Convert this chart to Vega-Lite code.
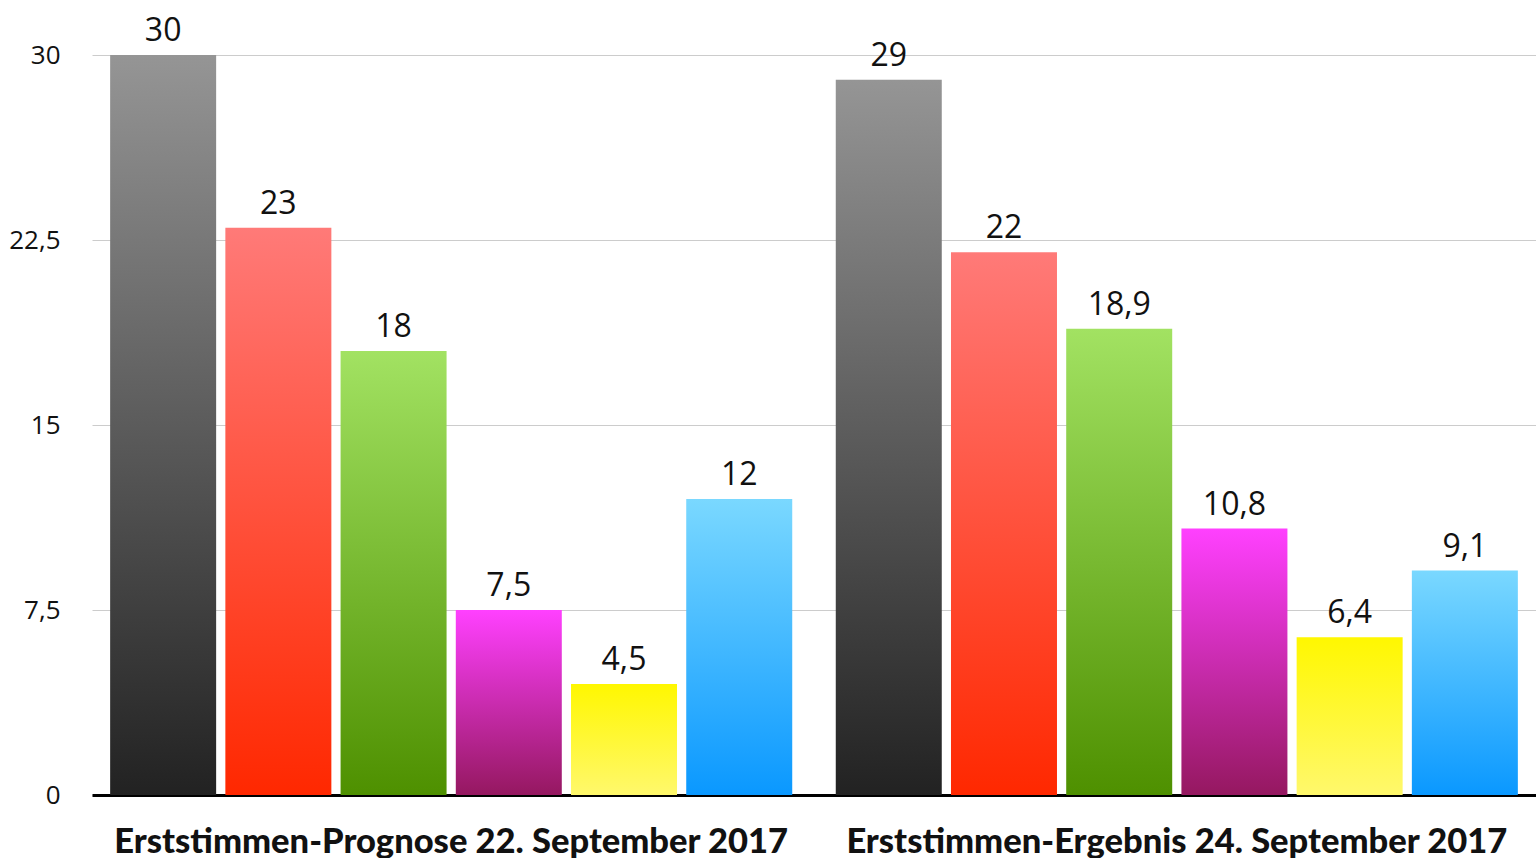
{
  "$schema": "https://vega.github.io/schema/vega-lite/v6.json",
  "autosize": {"type": "none"},
  "width": 1444,
  "height": 740,
  "padding": {"left": 92, "top": 55, "right": 0, "bottom": 63},
  "background": "white",
  "config": {
    "view": {"stroke": null},
    "locale": {"number": {"decimal": ",", "thousands": ".", "grouping": [3], "currency": ["", " €"]}}
  },
  "data": {
    "values": [
      {"gruppe": "Erststimmen-Prognose 22. September 2017", "partei": "P1", "wert": 30},
      {"gruppe": "Erststimmen-Prognose 22. September 2017", "partei": "P2", "wert": 23},
      {"gruppe": "Erststimmen-Prognose 22. September 2017", "partei": "P3", "wert": 18},
      {"gruppe": "Erststimmen-Prognose 22. September 2017", "partei": "P4", "wert": 7.5},
      {"gruppe": "Erststimmen-Prognose 22. September 2017", "partei": "P5", "wert": 4.5},
      {"gruppe": "Erststimmen-Prognose 22. September 2017", "partei": "P6", "wert": 12},
      {"gruppe": "Erststimmen-Ergebnis 24. September 2017", "partei": "P1", "wert": 29},
      {"gruppe": "Erststimmen-Ergebnis 24. September 2017", "partei": "P2", "wert": 22},
      {"gruppe": "Erststimmen-Ergebnis 24. September 2017", "partei": "P3", "wert": 18.9},
      {"gruppe": "Erststimmen-Ergebnis 24. September 2017", "partei": "P4", "wert": 10.8},
      {"gruppe": "Erststimmen-Ergebnis 24. September 2017", "partei": "P5", "wert": 6.4},
      {"gruppe": "Erststimmen-Ergebnis 24. September 2017", "partei": "P6", "wert": 9.1}
    ]
  },
  "encoding": {
    "x": {
      "field": "gruppe", "type": "nominal", "sort": null,
      "scale": {"paddingInner": 0.06, "paddingOuter": 0.025},
      "axis": {
        "title": null, "labelAngle": 0, "ticks": false, "labelLimit": 0,
        "labelFont": "Lato", "labelFontWeight": 900, "labelFontSize": 34.5,
        "labelColor": "#111111", "labelPadding": 30,
        "domainColor": "#000000", "domainWidth": 3
      }
    },
    "xOffset": {
      "field": "partei", "type": "nominal",
      "scale": {"domain": ["P1", "P2", "P3", "P4", "P5", "P6"], "paddingInner": 0.08, "paddingOuter": 0}
    },
    "y": {
      "field": "wert", "type": "quantitative",
      "scale": {"domain": [0, 30], "nice": false},
      "axis": {
        "title": null, "values": [0, 7.5, 15, 22.5, 30],
        "labelExpr": "replace(toString(datum.value), '.', ',')",
        "domain": false, "ticks": false, "labelPadding": 32,
        "labelFont": "Open Sans", "labelFontSize": 26, "labelColor": "#111111",
        "gridColor": "#cccccc", "gridWidth": 1
      }
    }
  },
  "layer": [
    {
      "transform": [{"filter": "datum.partei === 'P1'"}],
      "mark": {"type": "bar", "color": {"gradient": "linear", "x1": 0, "y1": 0, "x2": 0, "y2": 1, "stops": [{"offset": 0, "color": "#959595"}, {"offset": 1, "color": "#222222"}]}}
    },
    {
      "transform": [{"filter": "datum.partei === 'P2'"}],
      "mark": {"type": "bar", "color": {"gradient": "linear", "x1": 0, "y1": 0, "x2": 0, "y2": 1, "stops": [{"offset": 0, "color": "#FF7A78"}, {"offset": 1, "color": "#FF2800"}]}}
    },
    {
      "transform": [{"filter": "datum.partei === 'P3'"}],
      "mark": {"type": "bar", "color": {"gradient": "linear", "x1": 0, "y1": 0, "x2": 0, "y2": 1, "stops": [{"offset": 0, "color": "#A2E262"}, {"offset": 1, "color": "#4E9000"}]}}
    },
    {
      "transform": [{"filter": "datum.partei === 'P4'"}],
      "mark": {"type": "bar", "color": {"gradient": "linear", "x1": 0, "y1": 0, "x2": 0, "y2": 1, "stops": [{"offset": 0, "color": "#FF40FF"}, {"offset": 1, "color": "#951860"}]}}
    },
    {
      "transform": [{"filter": "datum.partei === 'P5'"}],
      "mark": {"type": "bar", "color": {"gradient": "linear", "x1": 0, "y1": 0, "x2": 0, "y2": 1, "stops": [{"offset": 0, "color": "#FFF700"}, {"offset": 1, "color": "#FFF86C"}]}}
    },
    {
      "transform": [{"filter": "datum.partei === 'P6'"}],
      "mark": {"type": "bar", "color": {"gradient": "linear", "x1": 0, "y1": 0, "x2": 0, "y2": 1, "stops": [{"offset": 0, "color": "#7AD8FF"}, {"offset": 1, "color": "#0A98FF"}]}}
    },
    {
      "mark": {"type": "text", "font": "Open Sans", "fontSize": 32, "color": "#111111", "baseline": "alphabetic", "dy": -14},
      "encoding": {
        "text": {"field": "wert", "type": "quantitative", "format": "~g"}
      }
    }
  ]
}
